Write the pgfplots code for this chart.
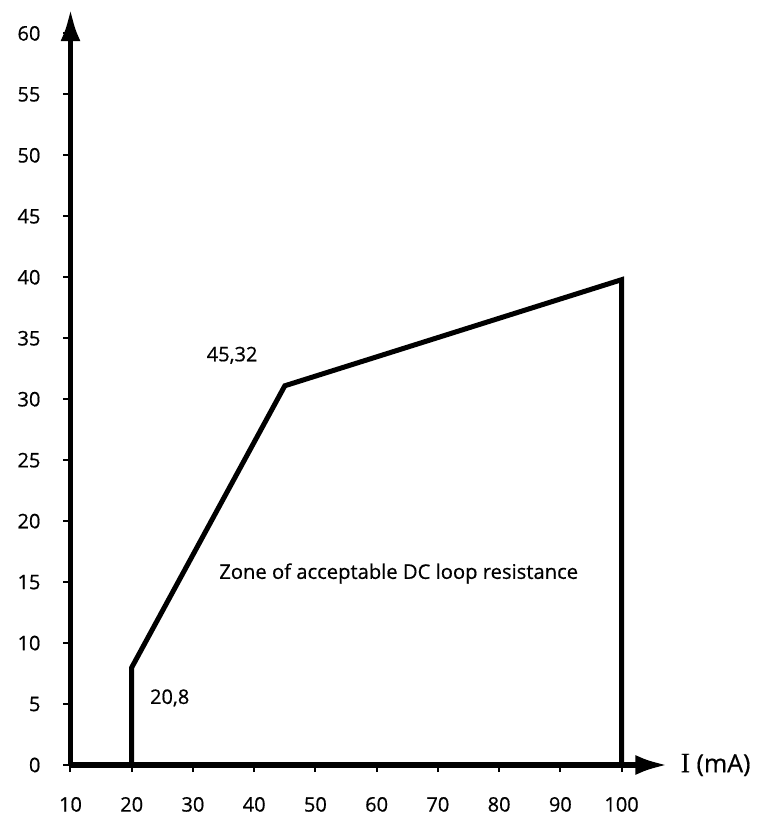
\documentclass[border=0pt]{standalone}
\usepackage{fontspec}
\setmainfont{Open Sans}[FakeBold=0.6]
\newfontfamily\seriffont{Liberation Serif}[FakeBold=0.6]
\usepackage{pgfplots}
\pgfplotsset{compat=1.18}
\usetikzlibrary{arrows.meta}
\begin{document}
\begin{tikzpicture}
\path[use as bounding box] (-35.25pt,-25.5pt) rectangle (344.25pt,382.5pt);
\begin{axis}[
  at={(0,0)}, anchor=south west,
  scale only axis, width=298.5pt, height=378pt,
  xmin=10, xmax=107.5, ymin=0, ymax=62,
  axis x line=bottom, axis y line=left,
  axis line style={line width=2.6pt, -{Latex[length=16pt,width=10pt]}},
  xtick={10,20,...,100}, ytick={0,5,...,60},
  tick style={black, line width=1pt},
  major tick length=3.5pt,
  tick align=outside,
  /pgf/number format/assume math mode=true,
  ticklabel style={font=\fontsize{10}{11}\selectfont},
  yticklabel style={anchor=east, xshift=-8pt},
  xticklabel style={anchor=north, yshift=-9pt},
  clip=false,
]
\addplot[black, line width=2.5pt, mark=none] coordinates {(20,0) (20,8) (45,31.1) (100,39.8) (100,0)};
\node[font=\fontsize{10}{11}\selectfont] at (axis cs:36.4,33.6) {45,32};
\node[font=\fontsize{10}{11}\selectfont] at (axis cs:26.2,5.5) {20,8};
\node[font=\fontsize{10.1}{11}\selectfont] at (axis cs:63.6,15.7) {Zone of acceptable DC loop resistance};
\node[anchor=west, font=\fontsize{12.5}{14}\selectfont, inner sep=0pt] at (axis cs:109.6,0) {{\seriffont\fontsize{14}{15}\selectfont I} (mA)};
\end{axis}
\end{tikzpicture}
\end{document}
